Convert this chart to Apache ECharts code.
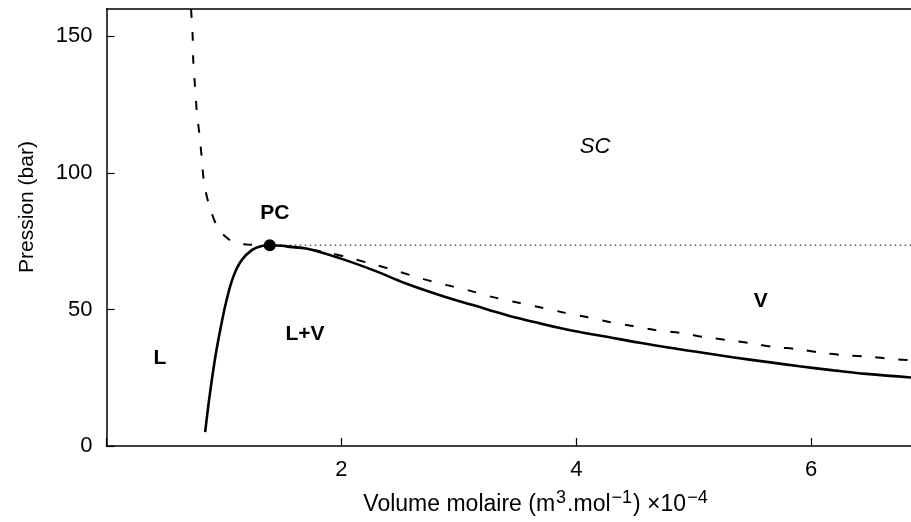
<!DOCTYPE html>
<html>
<head>
<meta charset="utf-8">
<script src="https://cdn.jsdelivr.net/npm/echarts@6/dist/echarts.min.js"></script>
<style>
html,body{margin:0;padding:0;background:#fff;}
#chart{width:911px;height:522px;}
</style>
</head>
<body>
<div id="chart"></div>
<script>
// Saturation curve (solid)
var satV = [0.84, 0.88, 0.93, 0.98, 1.02, 1.08, 1.15, 1.24, 1.32, 1.39, 1.50, 1.56, 1.70, 1.99, 2.27, 2.55, 2.84, 3.12, 3.41, 3.69, 3.97, 4.26, 4.54, 4.88, 5.05, 5.33, 5.62, 5.90, 6.19, 6.47, 6.85];
var satP = [5.1, 19.0, 33.5, 45.0, 53.0, 62.0, 68.0, 71.8, 73.2, 73.5, 73.3, 72.9, 72.3, 68.7, 64.4, 59.5, 55.2, 51.6, 47.9, 44.9, 42.2, 40.0, 37.8, 35.4, 34.3, 32.5, 30.8, 29.2, 27.7, 26.4, 25.1];
// Critical isotherm (dashed)
var critV = [0.72, 0.734, 0.739, 0.753, 0.768, 0.79, 0.81, 0.83, 0.875, 0.946, 1.01, 1.09, 1.2, 1.31, 1.39, 1.5, 1.71, 1.91, 2.11, 2.3, 2.5, 2.7, 2.9, 3.1, 3.29, 3.48, 3.68, 3.88, 4.09, 4.28, 4.48, 4.68, 4.9, 5.09, 5.29, 5.48, 5.69, 5.88, 6.1, 6.28, 6.51, 6.71, 6.85];
var critP = [160, 149.6, 140.9, 132, 123, 114.5, 106, 96.6, 88, 80, 76.8, 74.4, 73.8, 73.5, 73.5, 73.3, 72.1, 70.6, 68.4, 66.2, 63.7, 61.1, 58.9, 56.8, 54.5, 52.7, 50.9, 49, 47.2, 45.4, 43.9, 42.4, 41.3, 39.9, 38.8, 37.7, 36.2, 35.5, 34, 33.3, 32.6, 31.8, 31.4];
// Critical pressure level (dotted)
var dotV = [1.39, 6.85];
var dotP = [73.5, 73.5];
// Critical point
var pcV = [1.39];
var pcP = [73.5];
// Region labels
var annText = ['SC', 'PC', 'V', 'L+V', 'L'];
var annV = [4.16, 1.434, 5.57, 1.69, 0.455];
var annP = [109.4, 85.3, 53, 41, 32.2];
// Axis ticks
var xTickVals = [0, 2, 4, 6];
var xLabelVals = [2, 4, 6];
var yTickVals = [0, 50, 100, 150];

function zip(a, b) { return a.map(function (v, i) { return [v, b[i]]; }); }

var FONT = 'Liberation Sans';
var FS = 21;

var annData = annText.map(function (t, i) {
  var italic = (t === 'SC');
  return {
    value: [annV[i], annP[i]],
    label: {
      formatter: t,
      color: '#000',
      fontSize: italic ? 22 : 21,
      fontStyle: italic ? 'italic' : 'normal',
      fontWeight: italic ? 'normal' : 'bold'
    }
  };
});

var chart = echarts.init(document.getElementById('chart'), null, {renderer: 'canvas'});
chart.setOption({
  animation: false,
  backgroundColor: '#fff',
  grid: {left: 106.5, right: 0, top: 9, bottom: 76, containLabel: false},
  xAxis: [{
    type: 'value', min: 0, max: 6.85,
    axisLine: {show: true, lineStyle: {color: '#000', width: 1.5}},
    axisTick: {show: true, inside: true, length: 8, customValues: xTickVals, lineStyle: {color: '#000', width: 1.2}},
    axisLabel: {
      margin: 13, color: '#000', fontFamily: FONT, fontSize: 22,
      customValues: xLabelVals
    },
    splitLine: {show: false}
  }, {
    type: 'value', position: 'top', min: 0, max: 6.85,
    axisLine: {show: true, onZero: false, lineStyle: {color: '#000', width: 1.5}},
    axisTick: {show: false}, axisLabel: {show: false}, splitLine: {show: false}
  }],
  yAxis: {
    type: 'value', min: 0, max: 160,
    axisLine: {show: true, lineStyle: {color: '#000', width: 1.5}},
    axisTick: {show: true, inside: true, length: 8, customValues: yTickVals, lineStyle: {color: '#000', width: 1.2}},
    axisLabel: {
      margin: 14, color: '#000', fontFamily: FONT, fontSize: 22,
      customValues: yTickVals
    },
    splitLine: {show: false}
  },
  series: [{
    type: 'line', data: zip(dotV, dotP), symbol: 'none',
    lineStyle: {color: '#555', width: 1.3, type: [1.5, 3.5]}, z: 1
  }, {
    type: 'line', data: zip(critV, critP), symbol: 'none', smooth: 0.3,
    lineStyle: {color: '#000', width: 2, type: [9, 14]}, z: 2
  }, {
    type: 'line', data: zip(satV, satP), symbol: 'none', smooth: 0.4,
    lineStyle: {color: '#000', width: 2.6}, z: 3
  }, {
    type: 'scatter', data: zip(pcV, pcP), symbol: 'circle', symbolSize: 12,
    itemStyle: {color: '#000', opacity: 1}, z: 4
  }, {
    type: 'scatter', data: annData, symbolSize: 0, z: 5,
    itemStyle: {opacity: 1},
    label: {show: true, position: 'inside', color: '#000', fontFamily: FONT, fontSize: FS}
  }],
  graphic: [{
    type: 'text', x: 27, y: 207, rotation: Math.PI / 2,
    style: {
      text: 'Pression (bar)', fill: '#000', font: FS + 'px "' + FONT + '"',
      textAlign: 'center', textVerticalAlign: 'middle'
    }
  }, {
    type: 'text', x: 536, y: 505,
    style: {
      text: 'Volume molaire (m{sup|3}.mol{sup|\u22121}) \u00d710{sup|\u22124}',
      fill: '#000', fontFamily: FONT, fontSize: 23,
      textAlign: 'center', textVerticalAlign: 'middle',
      rich: {
        sup: {fontSize: 18, fontFamily: FONT, fill: '#000', padding: [0, 1, 13, 1], verticalAlign: 'bottom'}
      }
    }
  }]
});
</script>
</body>
</html>
